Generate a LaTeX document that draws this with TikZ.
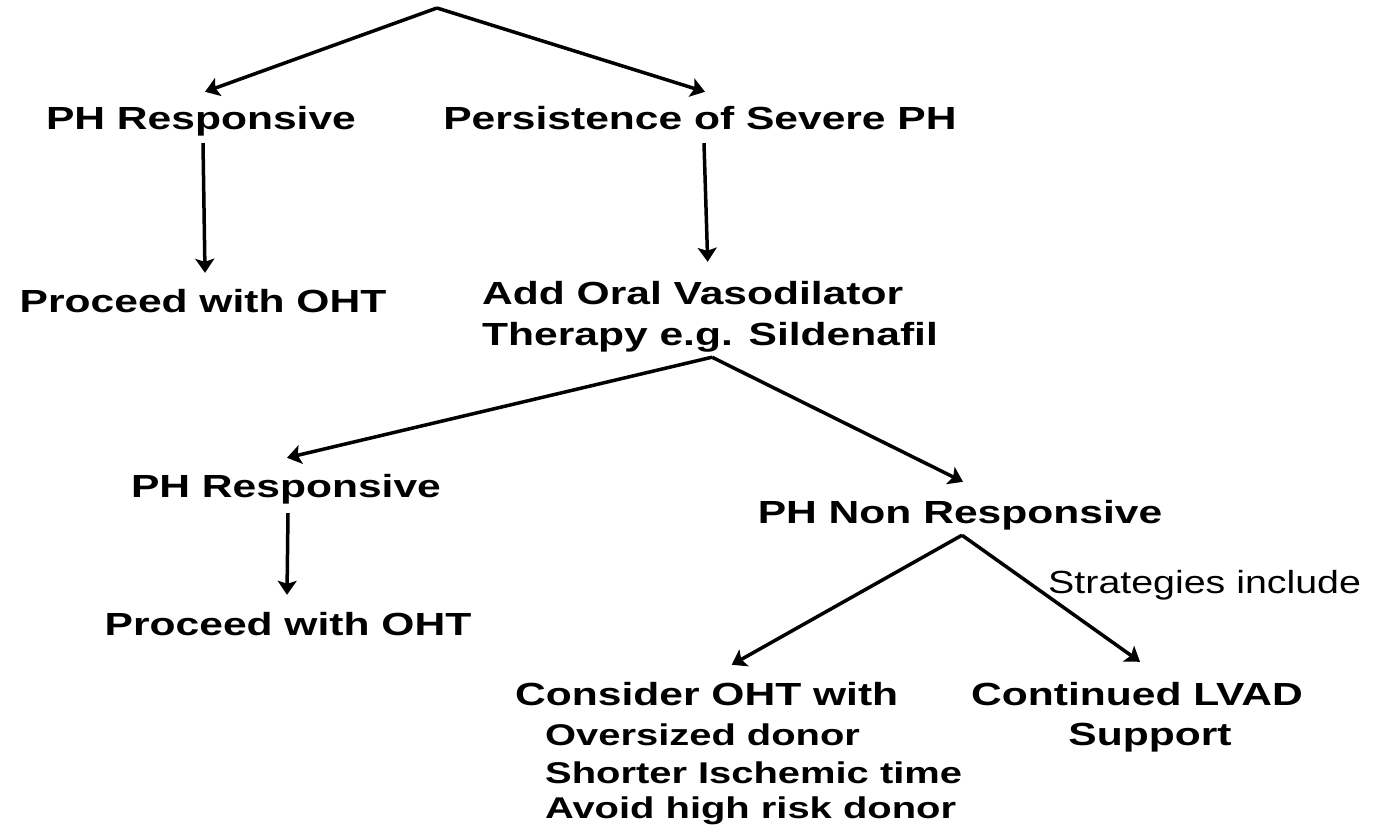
\documentclass[tikz,border=0pt]{standalone}
\usepackage{fontspec}
\setmainfont{Liberation Sans}[FakeStretch=1.33]
\newfontfamily\thinfont{Liberation Sans}[FakeStretch=1.23]
\usetikzlibrary{arrows.meta}
\tikzset{
  txt/.style={font=\bfseries\fontsize{32}{38}\selectfont, inner sep=0pt,
    text height=23pt, text depth=7pt, anchor=base},
  sub/.style={txt, font=\bfseries\fontsize{30}{36}\selectfont, anchor=base west},
  thin/.style={font=\thinfont\fontsize{32}{38}\selectfont, inner sep=0pt,
    anchor=base west},
  flow/.style={line width=3.5pt, -{Stealth[length=14pt, width=19pt, inset=3pt]}}
}
\begin{document}
\begin{tikzpicture}[x=1pt, y=-1pt]
\useasboundingbox (0,0) rectangle (1379,826);
\coordinate (top) at (437,8);
\node[txt] (respA) at (201,130) {PH Responsive};
\node[txt] (persist) at (700,130) {Persistence of Severe PH};
\node[txt] (ohtA) at (203,313) {Proceed with OHT};
\node[txt, anchor=base west] (oral) at (482,305) {Add Oral Vasodilator};
\node[txt, anchor=base west] (sild) at (482,345) {Therapy e.g. Sildenafil};
\node[txt] (respB) at (286,497) {PH Responsive};
\node[txt] (nonresp) at (960,523) {PH Non Responsive};
\node[txt] (ohtB) at (288,635) {Proceed with OHT};
\node[thin] (strat) at (1048,593) {Strategies include};
\node[txt, anchor=base west] (consider) at (515,705) {Consider OHT with};
\node[sub] (donA) at (545,745) {Oversized donor};
\node[sub] (isch) at (545,783) {Shorter Ischemic time};
\node[sub] (donB) at (545,818) {Avoid high risk donor};
\node[txt] (lvad) at (1137,705) {Continued LVAD};
\node[txt] (supp) at (1150,745) {Support};

\draw[flow] (top) -- ([xshift=4pt, yshift=15pt]respA.north);
\draw[flow] (top) -- ([xshift=5pt, yshift=15pt]persist.north);
\draw[flow] ([xshift=4pt, yshift=-6pt]persist.south) -- ([xshift=15pt, yshift=20pt]oral.north);
\draw[flow] ([xshift=2pt, yshift=-6pt]respA.south) -- ([xshift=2pt, yshift=17pt]ohtA.north);

\coordinate (forkA) at ([xshift=2pt, yshift=-5pt]sild.south);
\draw[flow] (forkA) -- ([xshift=1pt, yshift=16pt]respB.north);
\draw[flow] (forkA) -- ([xshift=3pt, yshift=18pt]nonresp.north);
\draw[flow] ([xshift=2pt, yshift=-9pt]respB.south) -- ([xshift=-1pt, yshift=17pt]ohtB.north);

\coordinate (forkB) at ([xshift=2pt, yshift=-5pt]nonresp.south);
\draw[flow] (forkB) -- ([xshift=25pt, yshift=17pt]consider.north);
\draw[flow] (forkB) -- ([xshift=3pt, yshift=20pt]lvad.north);
\end{tikzpicture}
\end{document}
